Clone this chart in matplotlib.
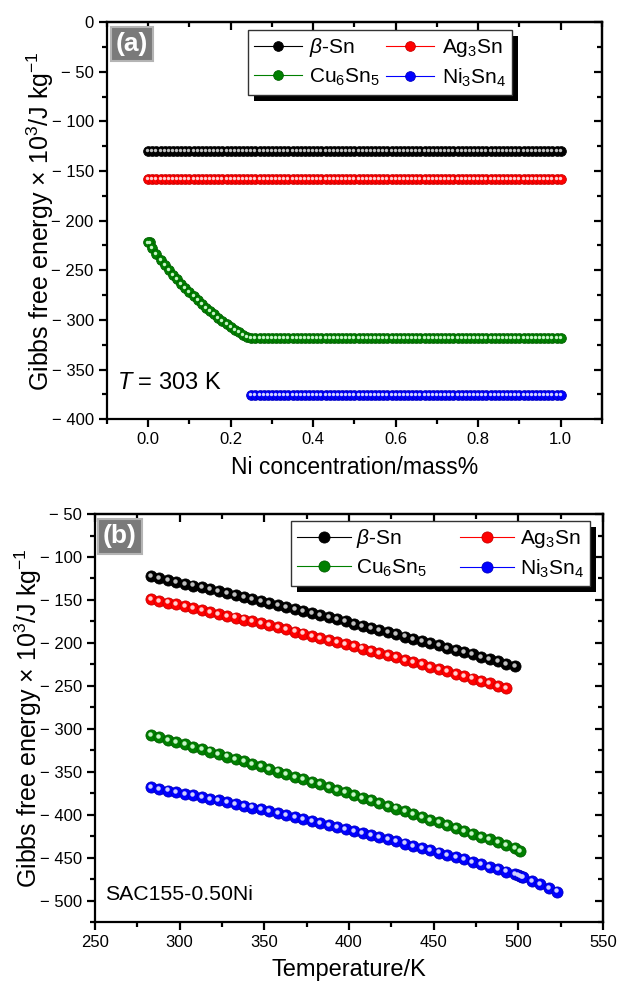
import numpy as np
import matplotlib
matplotlib.use("Agg")
import matplotlib.pyplot as plt
from matplotlib.ticker import MultipleLocator, FuncFormatter
from matplotlib.transforms import ScaledTranslation
from matplotlib.patches import Rectangle

plt.rcParams['font.family'] = ['Liberation Sans', 'DejaVu Sans']
plt.rcParams['mathtext.fontset'] = 'custom'
plt.rcParams['mathtext.rm'] = 'Liberation Sans'
plt.rcParams['mathtext.it'] = 'Liberation Sans:italic'
plt.rcParams['mathtext.bf'] = 'Liberation Sans:bold'

# ---------------- (a) Gibbs energy vs Ni content at 303 K ----------------
ni_conc = np.round(np.arange(0, 101) * 0.01, 2)
beta_sn_a = np.full(ni_conc.size, -130.0)
ag3sn_a = np.full(ni_conc.size, -158.5)
cu6sn5_curve = [-222.0, -228.0, -234.0, -239.5, -244.5, -249.5, -254.5, -259.0,
                -263.5, -268.0, -272.0, -276.0, -280.0, -284.0, -287.5, -291.0,
                -294.5, -298.0, -301.0, -304.0, -307.0, -310.0, -312.5, -315.0,
                -317.0, -318.0]
cu6sn5_a = np.concatenate([[-222.0], cu6sn5_curve,
                           np.full(ni_conc.size - len(cu6sn5_curve), -318.0)])
cu6sn5_x = np.concatenate([[0.005], ni_conc])
ni_conc_ni3sn4 = ni_conc[ni_conc >= 0.25]
ni3sn4_a = np.full(ni_conc_ni3sn4.size, -376.0)

# ---------------- (b) Gibbs energy vs temperature, SAC155-0.50Ni ----------------
temp_beta = [283, 288, 293, 298, 303, 308, 313, 318, 323, 328, 333, 338, 343, 348,
             353, 358, 363, 368, 373, 378, 383, 388, 393, 398, 403, 408, 413, 418,
             423, 428, 433, 438, 443, 448, 453, 458, 463, 468, 473, 478, 483, 488,
             493, 498]
beta_sn_b = [-122.5, -124.6, -126.8, -128.9, -131.1, -133.3, -135.5, -137.7, -140.0,
             -142.2, -144.5, -146.7, -149.0, -151.3, -153.6, -156.0, -158.3, -160.7,
             -163.0, -165.4, -167.8, -170.2, -172.7, -175.1, -177.6, -180.1, -182.5,
             -185.0, -187.6, -190.1, -192.6, -195.2, -197.8, -200.3, -202.9, -205.6,
             -208.2, -210.8, -213.5, -216.2, -218.8, -221.5, -224.3, -227.0]
temp_ag = temp_beta[:43]
ag3sn_b = [-149.0, -151.1, -153.1, -155.2, -157.4, -159.5, -161.7, -163.8, -166.1,
           -168.3, -170.5, -172.8, -175.1, -177.4, -179.7, -182.0, -184.4, -186.8,
           -189.2, -191.6, -194.1, -196.5, -199.0, -201.5, -204.1, -206.6, -209.2,
           -211.8, -214.4, -217.0, -219.6, -222.3, -225.0, -227.7, -230.4, -233.2,
           -236.0, -238.8, -241.6, -244.4, -247.2, -250.1, -253.0]
temp_cu = temp_beta + [501]
cu6sn5_b = [-307.2, -309.9, -312.7, -315.4, -318.2, -321.0, -323.8, -326.6, -329.5,
            -332.3, -335.2, -338.1, -341.0, -343.9, -346.9, -349.8, -352.8, -355.8,
            -358.8, -361.8, -364.8, -367.9, -371.0, -374.0, -377.1, -380.3, -383.4,
            -386.5, -389.7, -392.9, -396.1, -399.3, -402.5, -405.8, -409.0, -412.3,
            -415.6, -418.9, -422.2, -425.6, -428.9, -432.3, -435.7, -439.1, -442.0]
temp_ni = temp_beta + [500, 501, 502, 503, 508, 513, 518, 523]
ni3sn4_b = [-368.2, -370.0, -371.9, -373.7, -375.6, -377.5, -379.5, -381.5, -383.5,
            -385.5, -387.5, -389.6, -391.7, -393.8, -395.9, -398.1, -400.3, -402.5,
            -404.8, -407.1, -409.3, -411.7, -414.0, -416.4, -418.8, -421.2, -423.7,
            -426.1, -428.6, -431.2, -433.7, -436.3, -438.9, -441.5, -444.1, -446.8,
            -449.5, -452.2, -455.0, -457.8, -460.6, -463.4, -466.2, -469.1,
            -470.5, -471.5, -472.3, -473.0, -477.0, -481.0, -485.0, -489.5]

phase_labels = [r'$\beta$-Sn', r'Ag$_3$Sn', r'Cu$_6$Sn$_5$', r'Ni$_3$Sn$_4$']
phase_colors = ['#000000', '#ff0000', '#008000', '#0000ff']
edge_colors = ['#000000', '#c80000', '#006000', '#0000c0']
glint_colors = ['#c0c0c0', '#ffd0d0', '#c8f5c8', '#d0d0ff']

fig = plt.figure(figsize=(6.29, 9.84), dpi=100)
ax_a = fig.add_axes([0.170, 0.574, 0.787, 0.4035])
ax_b = fig.add_axes([0.151, 0.063, 0.8076, 0.4146])


def sphere_series(ax, x, y, k, ms, glint=0.40):
    ax.plot(x, y, '-', color=phase_colors[k], lw=0.8, marker='o', ms=ms,
            mfc=phase_colors[k], mec=edge_colors[k], mew=0.6,
            label=phase_labels[k], zorder=3)
    off = ScaledTranslation(-ms * 0.10 / 72, ms * 0.10 / 72, fig.dpi_scale_trans)
    ax.plot(x, y, 'o', ms=ms * glint, mfc=glint_colors[k], mec='none',
            transform=ax.transData + off, zorder=4)


def minus_fmt(v, pos):
    if abs(v) < 1e-9:
        return '0'
    return '\u2212 %d' % abs(v) if v < 0 else '%d' % v


def style_axes(ax):
    for s in ax.spines.values():
        s.set_linewidth(1.6)
    ax.tick_params(which='both', direction='out', top=False, right=False,
                   labelsize=12, width=1.6)
    ax.tick_params(which='major', length=6)
    ax.tick_params(which='minor', length=3.5)
    # mirrored inward ticks on top and right
    for side in ('top', 'right'):
        sec = ax.secondary_xaxis('top') if side == 'top' else ax.secondary_yaxis('right')
        sec.tick_params(which='both', direction='in', width=1.6, labelsize=0)
        sec.tick_params(which='major', length=6)
        sec.tick_params(which='minor', length=3.5)
        target = sec.xaxis if side == 'top' else sec.yaxis
        src = ax.xaxis if side == 'top' else ax.yaxis
        target.set_major_locator(src.get_major_locator())
        target.set_minor_locator(src.get_minor_locator())
        target.set_major_formatter(FuncFormatter(lambda v, p: ''))
        sec.spines[side].set_linewidth(1.6)


def shadow_legend(ax, leg, off_px=6):
    fig.canvas.draw()
    bb = leg.get_window_extent()
    w, h = fig.bbox.width, fig.bbox.height
    rect = Rectangle(((bb.x0 + off_px) / w, (bb.y0 - off_px) / h), bb.width / w,
                     bb.height / h, transform=fig.transFigure, fc='black',
                     ec='none', zorder=4.9, clip_on=False)
    ax.add_patch(rect)


def panel_tag(ax, text, x, y):
    ax.text(x, y, text, transform=ax.transAxes, fontsize=19, fontweight='bold',
            color='white', ha='left', va='top', zorder=6,
            bbox=dict(boxstyle='square,pad=0.2', fc='#7a7a7a', ec='#b4b4b4', lw=1.5))


ylabel_text = r'Gibbs free energy $\times$ 10$^3$/J kg$^{-1}$'

# ---- panel (a)
sphere_series(ax_a, ni_conc, beta_sn_a, 0, 7.0, 0.35)
sphere_series(ax_a, ni_conc, ag3sn_a, 1, 7.0, 0.35)
sphere_series(ax_a, cu6sn5_x, cu6sn5_a, 2, 7.0, 0.35)
sphere_series(ax_a, ni_conc_ni3sn4, ni3sn4_a, 3, 7.0, 0.35)
ax_a.set_xlim(-0.1, 1.1)
ax_a.set_ylim(-400, 0)
ax_a.xaxis.set_major_locator(MultipleLocator(0.2))
ax_a.xaxis.set_minor_locator(MultipleLocator(0.1))
ax_a.yaxis.set_major_locator(MultipleLocator(50))
ax_a.yaxis.set_minor_locator(MultipleLocator(25))
ax_a.xaxis.set_major_formatter(FuncFormatter(lambda v, p: '%.1f' % v))
ax_a.yaxis.set_major_formatter(FuncFormatter(minus_fmt))
style_axes(ax_a)
ax_a.set_xlabel('Ni concentration/mass%', fontsize=16.5, labelpad=6)
ax_a.set_ylabel(ylabel_text, fontsize=18, labelpad=-3)
ax_a.text(0.02, 0.09, r'$T$ = 303 K', transform=ax_a.transAxes, fontsize=17,
          ha='left', va='center')
panel_tag(ax_a, '(a)', 0.018, 0.975)

h, l = ax_a.get_legend_handles_labels()
order = [0, 2, 1, 3]
leg_a = ax_a.legend([h[i] for i in order], [l[i] for i in order], ncol=2,
                    loc='upper left', bbox_to_anchor=(0.285, 0.98), fontsize=15,
                    numpoints=1, handlelength=2.3, handletextpad=0.35,
                    columnspacing=0.3, labelspacing=0.35, borderpad=0.3,
                    fancybox=False, framealpha=1, edgecolor='#333333',
                    borderaxespad=0)
leg_a.get_frame().set_linewidth(1.0)
leg_a.set_zorder(5)

# ---- panel (b)
sphere_series(ax_b, temp_beta, beta_sn_b, 0, 8.0)
sphere_series(ax_b, temp_ag, ag3sn_b, 1, 8.0)
sphere_series(ax_b, temp_cu, cu6sn5_b, 2, 8.0)
sphere_series(ax_b, temp_ni, ni3sn4_b, 3, 8.0)
ax_b.set_xlim(250, 550)
ax_b.set_ylim(-525, -50)
ax_b.xaxis.set_major_locator(MultipleLocator(50))
ax_b.xaxis.set_minor_locator(MultipleLocator(25))
ax_b.yaxis.set_major_locator(MultipleLocator(50))
ax_b.yaxis.set_minor_locator(MultipleLocator(25))
ax_b.yaxis.set_major_formatter(FuncFormatter(minus_fmt))
style_axes(ax_b)
ax_b.set_xlabel('Temperature/K', fontsize=17, labelpad=6)
ax_b.set_ylabel(ylabel_text, fontsize=18, labelpad=-3)
ax_b.text(0.02, 0.045, 'SAC155-0.50Ni', transform=ax_b.transAxes, fontsize=15.3,
          ha='left', va='bottom')
panel_tag(ax_b, '(b)', 0.016, 0.975)

h, l = ax_b.get_legend_handles_labels()
leg_b = ax_b.legend([h[i] for i in order], [l[i] for i in order], ncol=2,
                    loc='upper left', bbox_to_anchor=(0.385, 0.983), fontsize=15,
                    numpoints=1, handlelength=2.6, handletextpad=0.25,
                    columnspacing=1.6, labelspacing=0.35, borderpad=0.3,
                    fancybox=False, framealpha=1, edgecolor='#333333',
                    borderaxespad=0)
leg_b.get_frame().set_linewidth(1.0)
leg_b.set_zorder(5)

shadow_legend(ax_a, leg_a)
shadow_legend(ax_b, leg_b)

fig.savefig('out.png', dpi=100)
